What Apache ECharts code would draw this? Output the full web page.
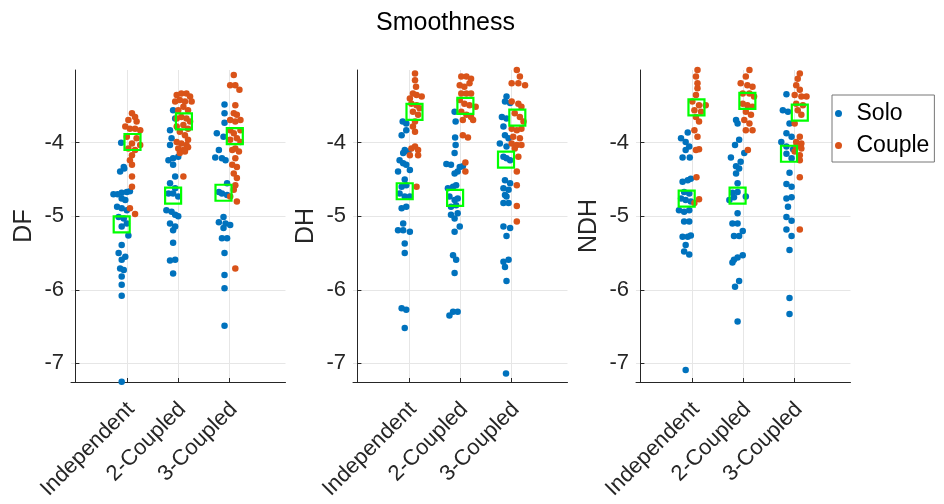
<!DOCTYPE html>
<html>
<head>
<meta charset="utf-8">
<script src="https://cdn.jsdelivr.net/npm/echarts@6/dist/echarts.min.js"></script>
<style>
html,body{margin:0;padding:0;background:#fff;}
#chart{width:944px;height:504px;}
</style>
</head>
<body>
<div id="chart"></div>
<script>
const categories = ['Independent', '2-Coupled', '3-Coupled'];
const panelNames = ['DF', 'DH', 'NDH'];
const yTicks = [-7, -6, -5, -4];
const xTicks = [1, 2, 3];

// each point: [horizontal jitter from the category centre, value]
// ---- DF ----
const dfSoloIndependent = [[-0.11,-4.00],[-0.06,-4.33],[-0.13,-4.39],[-0.05,-4.35],[-0.26,-4.70],[-0.18,-4.70],[-0.10,-4.68],[0.00,-4.67],[0.06,-4.66],[-0.10,-4.76],[-0.03,-4.78],[-0.19,-4.87],[-0.10,-4.89],[0.00,-4.92],[-0.16,-5.01],[-0.06,-5.03],[0.00,-5.10],[-0.10,-5.14],[0.03,-5.26],[-0.10,-5.39],[-0.16,-5.50],[-0.03,-5.55],[-0.10,-5.59],[-0.13,-5.71],[-0.06,-5.73],[-0.10,-5.82],[-0.10,-5.93],[-0.10,-6.08],[-0.10,-7.25]];
const dfSolo2Coupled = [[-0.10,-3.56],[-0.06,-3.67],[-0.16,-3.83],[-0.13,-3.94],[-0.16,-4.03],[-0.19,-4.24],[-0.10,-4.21],[0.00,-4.19],[-0.10,-4.30],[-0.06,-4.46],[-0.16,-4.55],[-0.06,-4.62],[-0.19,-4.69],[-0.10,-4.69],[0.00,-4.73],[-0.23,-4.92],[-0.13,-4.94],[-0.06,-4.98],[0.00,-5.00],[-0.16,-5.10],[-0.06,-5.14],[-0.10,-5.19],[-0.10,-5.36],[-0.16,-5.60],[-0.06,-5.59],[-0.10,-5.78]];
const dfSolo3Coupled = [[-0.10,-3.48],[-0.10,-3.60],[-0.10,-3.73],[-0.25,-3.87],[-0.12,-3.92],[-0.21,-4.10],[-0.28,-4.20],[-0.15,-4.21],[-0.08,-4.24],[-0.05,-4.55],[-0.21,-4.67],[-0.15,-4.69],[-0.05,-4.71],[-0.12,-5.01],[-0.21,-5.08],[-0.08,-5.10],[0.01,-5.12],[-0.12,-5.16],[-0.15,-5.30],[-0.05,-5.30],[-0.10,-5.50],[-0.10,-5.80],[-0.10,-5.98],[-0.10,-6.49]];
const dfCoupleIndependent = [[0.10,-3.60],[0.16,-3.65],[0.03,-3.69],[0.19,-3.71],[-0.03,-3.78],[0.06,-3.81],[0.16,-3.81],[0.26,-3.83],[0.00,-3.92],[0.19,-3.94],[0.10,-4.01],[0.26,-4.03],[0.03,-4.08],[0.16,-4.10],[0.10,-4.17],[0.06,-4.24],[0.10,-4.30],[0.10,-4.46],[0.10,-4.60],[0.06,-4.89],[0.16,-4.97]];
const dfCouple2Coupled = [[-0.03,-3.35],[0.06,-3.33],[0.16,-3.33],[0.23,-3.37],[-0.06,-3.44],[0.03,-3.42],[0.13,-3.44],[0.26,-3.44],[0.00,-3.56],[0.10,-3.51],[0.19,-3.56],[-0.03,-3.67],[0.06,-3.65],[0.16,-3.67],[0.23,-3.71],[-0.03,-3.78],[0.10,-3.76],[0.19,-3.81],[0.03,-3.85],[0.13,-3.90],[0.19,-3.96],[-0.03,-3.99],[0.06,-4.01],[0.16,-4.03],[0.00,-4.08],[0.10,-4.10],[0.19,-4.06],[0.03,-4.14],[0.13,-4.12],[0.10,-4.46]];
const dfCouple3Coupled = [[0.08,-3.08],[0.01,-3.22],[0.11,-3.22],[0.19,-3.28],[0.11,-3.49],[0.08,-3.60],[0.14,-3.62],[0.01,-3.69],[0.11,-3.71],[0.21,-3.69],[0.01,-3.83],[0.21,-3.83],[0.08,-3.87],[0.14,-3.94],[0.01,-3.96],[0.21,-3.99],[0.11,-4.08],[0.05,-4.10],[0.18,-4.12],[0.11,-4.21],[0.05,-4.30],[0.14,-4.33],[0.08,-4.42],[0.14,-4.48],[0.11,-4.58],[0.08,-4.64],[0.01,-4.73],[0.14,-4.80],[0.11,-5.71]];
const dfSoloMean = [[-0.10,-5.11],[-0.10,-4.72],[-0.12,-4.68]];
const dfCoupleMean = [[0.11,-3.99],[0.11,-3.71],[0.10,-3.91]];

// ---- DH ----
const dhSoloIndependent = [[-0.12,-3.71],[-0.05,-3.74],[-0.14,-3.90],[-0.05,-3.83],[-0.08,-4.10],[-0.11,-4.14],[-0.01,-4.12],[-0.18,-4.24],[-0.11,-4.28],[-0.05,-4.30],[-0.21,-4.39],[0.02,-4.37],[-0.08,-4.50],[-0.14,-4.60],[-0.05,-4.58],[-0.18,-4.69],[-0.08,-4.73],[0.02,-4.73],[-0.14,-4.89],[-0.05,-4.87],[-0.11,-5.10],[-0.21,-5.19],[-0.11,-5.19],[0.02,-5.21],[-0.08,-5.37],[-0.08,-5.50],[-0.14,-6.25],[-0.05,-6.27],[-0.08,-6.52]];
const dhSolo2Coupled = [[-0.11,-3.58],[-0.09,-3.71],[-0.10,-3.93],[-0.09,-4.03],[-0.11,-4.14],[-0.27,-4.29],[-0.18,-4.30],[-0.01,-4.33],[-0.05,-4.39],[-0.11,-4.42],[0.05,-4.32],[-0.24,-4.62],[-0.14,-4.60],[-0.08,-4.58],[-0.21,-4.73],[-0.11,-4.78],[-0.05,-4.76],[-0.08,-4.85],[-0.18,-4.87],[-0.05,-4.96],[-0.18,-4.98],[-0.11,-5.03],[-0.01,-5.14],[-0.11,-5.21],[-0.14,-5.53],[-0.08,-5.59],[-0.11,-5.77],[-0.14,-6.30],[-0.05,-6.30],[-0.21,-6.35]];
const dhSolo3Coupled = [[-0.10,-3.37],[-0.13,-3.44],[-0.03,-3.46],[-0.19,-3.65],[-0.10,-3.67],[-0.16,-3.78],[-0.13,-3.90],[-0.06,-3.94],[-0.23,-4.01],[-0.10,-4.05],[-0.16,-4.19],[-0.10,-4.21],[-0.03,-4.24],[-0.13,-4.51],[-0.03,-4.55],[-0.16,-4.62],[-0.06,-4.64],[-0.13,-4.71],[-0.10,-4.73],[-0.16,-4.82],[-0.06,-4.82],[-0.16,-5.14],[-0.03,-5.16],[-0.10,-5.27],[-0.16,-5.62],[-0.06,-5.59],[-0.13,-5.69],[-0.10,-5.88],[-0.11,-7.14]];
const dhCoupleIndependent = [[0.12,-3.00],[0.12,-3.06],[0.12,-3.15],[0.14,-3.24],[0.08,-3.33],[0.15,-3.35],[0.02,-3.40],[0.25,-3.37],[0.05,-3.47],[0.15,-3.49],[0.21,-3.53],[0.08,-3.58],[0.18,-3.62],[0.12,-3.71],[0.08,-3.78],[0.12,-3.85],[0.05,-4.08],[0.12,-4.05],[0.18,-4.10],[0.02,-4.17],[0.18,-4.17],[0.15,-4.60]];
const dhCouple2Coupled = [[0.02,-3.10],[0.12,-3.10],[0.21,-3.13],[-0.01,-3.22],[0.08,-3.24],[0.18,-3.19],[0.02,-3.33],[0.12,-3.33],[0.21,-3.33],[-0.01,-3.42],[0.08,-3.47],[0.18,-3.49],[0.30,-3.51],[0.02,-3.58],[0.12,-3.62],[0.21,-3.65],[0.25,-3.69],[0.05,-3.69],[0.05,-3.90],[0.15,-3.93],[0.10,-4.27],[0.10,-4.39]];
const dhCouple3Coupled = [[0.10,-3.01],[0.16,-3.10],[0.00,-3.19],[0.13,-3.19],[0.26,-3.22],[0.00,-3.44],[0.13,-3.47],[0.19,-3.51],[0.06,-3.60],[0.16,-3.65],[0.23,-3.71],[0.00,-3.81],[0.10,-3.83],[0.19,-3.81],[0.03,-3.92],[0.16,-3.94],[0.00,-4.01],[0.10,-4.03],[0.19,-4.03],[0.06,-4.08],[0.13,-4.19],[0.10,-4.39],[0.10,-4.58],[0.10,-4.86],[0.10,-5.07]];
const dhSoloMean = [[-0.08,-4.66],[-0.10,-4.75],[-0.11,-4.23]];
const dhCoupleMean = [[0.11,-3.58],[0.10,-3.50],[0.11,-3.66]];

// ---- NDH ----
const ndhSoloIndependent = [[-0.08,-3.86],[-0.21,-3.94],[-0.12,-3.99],[-0.05,-4.05],[-0.12,-4.10],[-0.18,-4.20],[-0.04,-4.20],[-0.18,-4.53],[-0.08,-4.51],[-0.02,-4.49],[-0.15,-4.67],[-0.05,-4.69],[-0.21,-4.76],[-0.12,-4.78],[-0.02,-4.80],[-0.25,-4.92],[-0.15,-4.94],[-0.05,-4.92],[-0.15,-5.07],[-0.05,-5.07],[-0.18,-5.28],[-0.08,-5.28],[-0.02,-5.26],[-0.12,-5.39],[-0.15,-5.48],[-0.05,-5.52],[-0.12,-7.09]];
const ndhSolo2Coupled = [[-0.14,-3.69],[-0.11,-3.74],[-0.08,-3.96],[-0.16,-4.03],[-0.24,-4.20],[0.02,-4.14],[-0.05,-4.26],[-0.14,-4.32],[-0.08,-4.35],[-0.14,-4.42],[-0.11,-4.55],[-0.21,-4.68],[-0.11,-4.67],[-0.27,-4.78],[-0.18,-4.74],[0.05,-4.73],[-0.11,-4.96],[-0.21,-5.10],[-0.11,-5.10],[-0.01,-5.20],[-0.18,-5.27],[-0.08,-5.27],[-0.18,-5.59],[-0.11,-5.56],[-0.01,-5.53],[-0.21,-5.63],[-0.08,-5.88],[-0.16,-5.96],[-0.11,-6.43]];
const ndhSolo3Coupled = [[-0.16,-3.34],[-0.23,-3.56],[-0.13,-3.58],[-0.10,-3.74],[-0.16,-3.87],[-0.06,-3.92],[-0.26,-3.99],[-0.16,-4.05],[-0.03,-4.09],[-0.16,-4.15],[-0.06,-4.21],[-0.10,-4.41],[-0.16,-4.56],[-0.06,-4.60],[-0.16,-4.76],[-0.06,-4.74],[-0.13,-4.87],[-0.16,-5.01],[-0.06,-5.06],[-0.16,-5.18],[-0.06,-5.27],[-0.10,-5.46],[-0.10,-6.11],[-0.10,-6.33]];
const ndhCoupleIndependent = [[0.11,-3.01],[0.08,-3.10],[0.11,-3.19],[0.11,-3.26],[0.08,-3.35],[0.01,-3.44],[0.14,-3.49],[0.27,-3.49],[0.05,-3.56],[0.18,-3.58],[0.08,-3.65],[0.14,-3.71],[0.05,-3.83],[0.11,-3.92],[0.08,-4.10],[0.14,-4.09],[0.09,-4.47],[0.14,-4.77],[0.05,-4.82]];
const ndhCouple2Coupled = [[0.12,-3.01],[0.05,-3.10],[-0.05,-3.19],[0.08,-3.22],[0.18,-3.24],[-0.01,-3.33],[0.12,-3.33],[0.21,-3.37],[-0.01,-3.47],[0.08,-3.49],[0.18,-3.51],[0.05,-3.58],[0.15,-3.62],[0.02,-3.69],[0.12,-3.74],[0.05,-3.83],[0.18,-3.83],[0.09,-4.10]];
const ndhCouple3Coupled = [[0.10,-3.06],[0.06,-3.13],[0.03,-3.22],[0.10,-3.28],[0.00,-3.35],[0.13,-3.37],[0.23,-3.37],[0.03,-3.47],[0.16,-3.49],[0.06,-3.56],[0.13,-3.62],[0.00,-3.74],[0.10,-3.92],[0.03,-3.99],[0.13,-4.01],[0.03,-4.05],[0.13,-4.08],[0.00,-4.12],[0.10,-4.17],[0.10,-4.24],[0.10,-4.47],[0.10,-5.18]];
const ndhSoloMean = [[-0.10,-4.76],[-0.11,-4.72],[-0.11,-4.15]];
const ndhCoupleMean = [[0.09,-3.52],[0.08,-3.43],[0.10,-3.59]];

const panels = [
  {solo: [dfSoloIndependent, dfSolo2Coupled, dfSolo3Coupled], couple: [dfCoupleIndependent, dfCouple2Coupled, dfCouple3Coupled], soloMean: dfSoloMean, coupleMean: dfCoupleMean},
  {solo: [dhSoloIndependent, dhSolo2Coupled, dhSolo3Coupled], couple: [dhCoupleIndependent, dhCouple2Coupled, dhCouple3Coupled], soloMean: dhSoloMean, coupleMean: dhCoupleMean},
  {solo: [ndhSoloIndependent, ndhSolo2Coupled, ndhSolo3Coupled], couple: [ndhCoupleIndependent, ndhCouple2Coupled, ndhCouple3Coupled], soloMean: ndhSoloMean, coupleMean: ndhCoupleMean}
];

const SOLO = '#0072BD', COUPLE = '#D95319', MEAN = '#00FF00', AXIS = '#262626', GRID = '#e6e6e6';
const FONT = 'Liberation Sans, Arial, Helvetica, sans-serif';
const LABEL_SHIFT = 0.08; // rotated category labels sit slightly right of their tick

function place(groups) {
  const out = [];
  groups.forEach((g, ci) => g.forEach(([dx, y]) => out.push([xTicks[ci] + dx, y])));
  return out;
}
function placeMeans(m) { return m.map(([dx, y], ci) => [xTicks[ci] + dx, y]); }

const gridLefts = [71, 353, 636];
const grids = gridLefts.map(l => ({left: l, top: 70, width: 214.5, height: 312}));
const xAxes = gridLefts.map((l, i) => ({
  type: 'value', gridIndex: i, min: -0.086, max: 4.086,
  axisLine: {show: true, onZero: false, lineStyle: {color: AXIS, width: 1}},
  axisTick: {show: true, inside: true, length: 4, customValues: xTicks, lineStyle: {color: AXIS}},
  axisLabel: {customValues: xTicks.map(v => v + LABEL_SHIFT), formatter: v => categories[Math.round(v) - 1],
    rotate: 45, margin: 24, fontSize: 22, color: AXIS, fontFamily: FONT},
  splitLine: {show: true, lineStyle: {color: GRID, width: 1}}
}));
const yAxes = gridLefts.map((l, i) => ({
  type: 'value', gridIndex: i, min: -7.254, max: -3.011,
  name: panelNames[i], nameLocation: 'middle', nameGap: 34,
  nameTextStyle: {fontSize: 25, color: AXIS, fontFamily: FONT},
  axisLine: {show: true, lineStyle: {color: AXIS, width: 1}},
  axisTick: {show: true, inside: true, length: 4, customValues: yTicks, lineStyle: {color: AXIS}},
  axisLabel: {customValues: yTicks, margin: 7, fontSize: 22, color: AXIS, fontFamily: FONT},
  splitLine: {show: true, lineStyle: {color: GRID, width: 1}}
}));

const series = [];
panels.forEach((p, i) => {
  series.push({name: 'Solo', type: 'scatter', xAxisIndex: i, yAxisIndex: i, symbol: 'circle', symbolSize: 6.5,
    itemStyle: {color: SOLO, opacity: 1}, data: place(p.solo), z: 2, silent: true});
  series.push({name: 'Couple', type: 'scatter', xAxisIndex: i, yAxisIndex: i, symbol: 'circle', symbolSize: 6.5,
    itemStyle: {color: COUPLE, opacity: 1}, data: place(p.couple), z: 3, silent: true});
  series.push({name: 'Mean', type: 'scatter', xAxisIndex: i, yAxisIndex: i, symbol: 'rect', symbolSize: 16,
    itemStyle: {color: 'rgba(0,0,0,0)', borderColor: MEAN, borderWidth: 2.2, opacity: 1},
    data: placeMeans(p.soloMean).concat(placeMeans(p.coupleMean)), z: 4, silent: true});
});

const chart = echarts.init(document.getElementById('chart'), null, {renderer: 'canvas'});
chart.setOption({
  animation: false,
  backgroundColor: '#fff',
  title: {text: 'Smoothness', left: 371, top: 6,
    textStyle: {fontSize: 25, fontWeight: 'normal', color: '#000', fontFamily: FONT}},
  legend: {data: ['Solo', 'Couple'], orient: 'vertical', left: 832, top: 95,
    padding: [7, 5, 5, 3], itemGap: 9, itemWidth: 26, itemHeight: 7, icon: 'circle',
    backgroundColor: '#fff', borderColor: '#777', borderWidth: 1, borderRadius: 0,
    textStyle: {fontSize: 23, color: '#000', fontFamily: FONT}},
  grid: grids,
  xAxis: xAxes,
  yAxis: yAxes,
  series: series
});
</script>
</body>
</html>
